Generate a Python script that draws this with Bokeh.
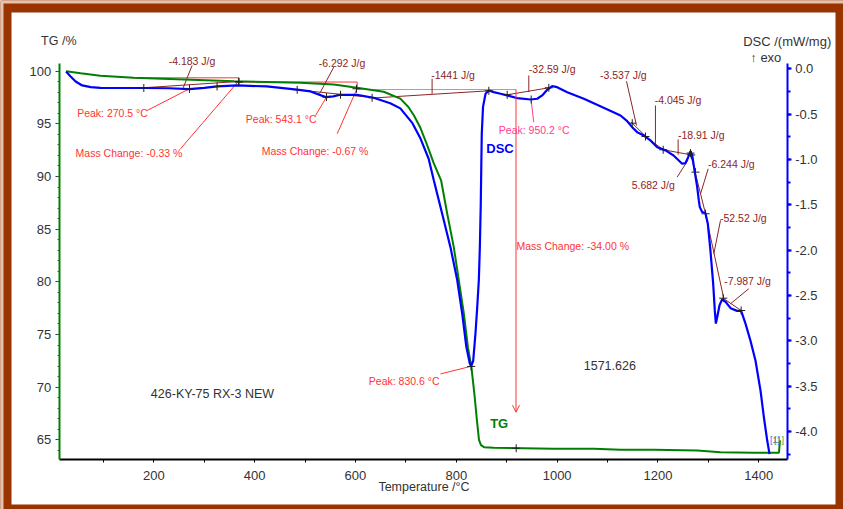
from bokeh.plotting import figure
from bokeh.models import (Range1d, LinearAxis, SingleIntervalTicker, PrintfTickFormatter,
                          Label, Arrow, OpenHead, BoxAnnotation)
from bokeh.embed import file_html
from bokeh.resources import INLINE

# ---------------- data ----------------
tg_temp = [26, 55, 94, 160, 260, 359, 491, 557, 603, 656, 689, 705, 716, 729, 742, 755, 770,
           782, 795, 805, 815, 823, 830, 836, 841, 845, 849, 855, 874, 993, 1073, 1126, 1192,
           1278, 1324, 1390, 1440, 1442]
tg_mass = [100.0, 99.81, 99.56, 99.37, 99.21, 99.05, 98.9, 98.74, 98.42, 98.05, 97.4, 96.6,
           95.8, 94.6, 93.0, 91.3, 89.6, 86.46, 83.3, 80.13, 76.97, 73.8, 71.9, 69.3, 66.8,
           65.0, 64.5, 64.3, 64.24, 64.15, 64.15, 64.05, 64.05, 63.99, 63.83, 63.77, 63.77, 64.94]

dsc_temp = [26, 35, 45, 58, 75, 94, 180, 230, 270, 300, 326, 365, 424, 484, 511, 541, 556, 570,
            603, 636, 669, 689, 713, 729, 745, 755.5, 772, 788.5, 801.8, 811.7, 820, 826.8,
            829.5, 833.5, 838, 841.5, 844.7, 846.7, 848.5, 849.5, 850.5, 853, 858, 864.5, 874.4,
            887.7, 900.9, 920.8, 947.3, 960.5, 970.4, 980.3, 990.2, 1000, 1020, 1053, 1089,
            1125.7, 1139, 1148.9, 1158.8, 1172, 1185, 1198.5, 1215, 1231, 1248, 1254.6, 1260,
            1264.5, 1268, 1272.5, 1277.8, 1281, 1283, 1287.6, 1294, 1298.9, 1304, 1309.5,
            1312.8, 1314.8, 1317.5, 1322, 1327.4, 1334, 1344, 1357, 1365, 1373.6, 1383.5,
            1393.5, 1403.4, 1410, 1416.7, 1421.3]
dsc_val = [-0.03, -0.085, -0.14, -0.184, -0.203, -0.21, -0.212, -0.215, -0.224, -0.21, -0.195,
           -0.184, -0.195, -0.23, -0.25, -0.313, -0.305, -0.287, -0.287, -0.32, -0.38, -0.437,
           -0.60, -0.77, -0.99, -1.232, -1.60, -1.97, -2.33, -2.70, -3.07, -3.25, -3.28, -3.22,
           -2.92, -2.63, -2.33, -1.97, -1.5, -1.1, -0.72, -0.42, -0.276, -0.239, -0.258, -0.276,
           -0.294, -0.324, -0.339, -0.331, -0.294, -0.232, -0.192, -0.203, -0.258, -0.331,
           -0.423, -0.515, -0.578, -0.644, -0.699, -0.736, -0.79, -0.865, -0.90, -0.956,
           -1.048, -1.04, -0.975, -0.909, -0.956, -1.12, -1.306, -1.452, -1.526, -1.58, -1.59,
           -1.71, -2.00, -2.37, -2.67, -2.81, -2.74, -2.61, -2.54, -2.57, -2.64, -2.67, -2.67,
           -2.81, -3.00, -3.22, -3.55, -3.84, -4.10, -4.25]

# axis extents
temp_lo, temp_hi = 12.4, 1456.3
tg_lo, tg_hi = 63.13, 100.73
dsc_lo, dsc_hi = -4.309, 0.058

# DSC integration baselines (maroon), in DSC units
base_x0 = [180.2, 484.4, 636.3, 900.9, 1147, 1175.3, 1210.4, 1264.5, 1294.3, 1330.6]
base_y0 = [-0.2095, -0.232, -0.322, -0.287, -0.589, -0.747, -0.893, -0.935, -1.599, -2.536]
base_x1 = [368.6, 636.3, 864.5, 983.5, 1178.6, 1210.4, 1261.3, 1294.3, 1330.6, 1365]
base_y1 = [-0.140, -0.32, -0.243, -0.21, -0.761, -0.893, -0.945, -1.599, -2.536, -2.666]

# leader lines for the J/g labels (maroon)
lead_x0 = [276, 557, 752, 943.8, 1137.6, 1195, 1240, 1238, 1299.6, 1324, 1380]
lead_y0 = [0.036, 0.018, -0.110, -0.074, -0.137, -0.405, -0.78, -1.195, -1.103, -1.673, -2.426]
lead_x1 = [258.3, 528.7, 752, 943.8, 1157.4, 1195, 1240, 1259.2, 1284.4, 1310.8, 1343.8]
lead_y1 = [-0.21, -0.276, -0.276, -0.258, -0.625, -0.857, -0.948, -1.011, -1.379, -2.04, -2.592]

energy_text = ["-4.183 J/g", "-6.292 J/g", "-1441 J/g", "-32.59 J/g", "-3.537 J/g",
               "-4.045 J/g", "-18.91 J/g", "5.682 J/g", "-6.244 J/g", "-52.52 J/g", "-7.987 J/g"]
energy_x = [275.8, 573.3, 793.5, 990.2, 1131.3, 1239.7, 1285.9, 1190.7, 1345.5, 1369.3, 1377.6]
energy_y = [0.084, 0.066, -0.074, -0.008, -0.074, -0.342, -0.725, -1.287, -1.048, -1.648, -2.346]

# peak labels (DSC units)
peak_text = ["Peak: 270.5 °C", "Peak: 543.1 °C", "Peak: 830.6 °C", "Peak: 950.2 °C"]
peak_x = [118.1, 452.7, 696.6, 954.5]
peak_y = [-0.493, -0.551, -3.438, -0.680]
peak_lx0 = [186.9, 520.8, 768.6, 953.6]
peak_ly0 = [-0.46, -0.515, -3.365, -0.589]
peak_lx1 = [270.8, 542.5, 828.2, 948.5]
peak_ly1 = [-0.22, -0.313, -3.283, -0.349]

# cross markers on DSC
mark_x = [180.2, 270.8, 325.5, 368.6, 484.4, 542.5, 570.4, 633, 864.5, 900.9, 948.5, 983.5,
          1149, 1175.3, 1210.4, 1264.5, 1266, 1274.4, 1294.3, 1329.5, 1365, 829.5]
mark_y = [-0.212, -0.222, -0.195, -0.143, -0.232, -0.313, -0.287, -0.32, -0.243, -0.287,
          -0.339, -0.21, -0.6, -0.747, -0.893, -0.93, -0.95, -1.14, -1.599, -2.53, -2.666, -3.283]

# mass change steps (TG units)
step_x = [157.2, 368.6, 368.6, 603.4, 603.4]
step_y = [99.37, 99.37, 98.97, 98.97, 98.26]
mc_text = ["Mass Change: -0.33 %", "Mass Change: -0.67 %", "Mass Change: -34.00 %"]
mc_x = [150.8, 519.8, 1030.9]
mc_y = [92.19, 92.40, 83.38]
mc_lx0 = [252.9, 563.8]
mc_ly0 = [92.63, 94.06]
mc_lx1 = [366.6, 602]
mc_ly1 = [98.97, 98.23]
mc_level_x = [603.4, 918.4]
mc_level_y = [98.26, 98.26]
mc_arrow_end = 67.62
tg_mark_x = [368.6, 602, 918.8]
tg_mark_y = [98.97, 98.33, 64.2]

# ---------------- figure ----------------
BROWN = "#993300"
LIGHT = "#e6c2ae"
MAROON = "#8b2525"
RED = "#ff3333"
PINK = "#ff3c96"
FONT = "Liberation Sans"

# the frame fills the whole canvas; the ranges map the page edges
p = figure(width=843, height=509, x_range=Range1d(-104.07, 1568.0),
           y_range=Range1d(58.383, 106.712),
           output_backend="svg", toolbar_location=None,
           min_border_left=0, min_border_right=0, min_border_top=0, min_border_bottom=0)
p.extra_y_ranges = {"dsc": Range1d(-4.8604, 0.7528)}
p.border_fill_color = BROWN
p.background_fill_color = BROWN
p.outline_line_color = None
p.grid.visible = False
p.xaxis.visible = False
p.yaxis.visible = False

# page decoration: white sheet inside a brown frame, pale top/left edge
p.add_layout(BoxAnnotation(left=-82.25, right=1552.1, bottom=58.857, top=105.572,
                           fill_color="white", fill_alpha=1, line_color=None, level="underlay"))
p.add_layout(BoxAnnotation(left=-104.07, right=1568.0, bottom=106.427, top=106.712,
                           fill_color=LIGHT, fill_alpha=1, line_color=None, level="underlay"))
p.add_layout(BoxAnnotation(left=-104.07, right=-98.12, bottom=58.383, top=106.712,
                           fill_color=LIGHT, fill_alpha=1, line_color=None, level="underlay"))

# bottom axis
xa = LinearAxis(fixed_location=tg_lo, bounds=(temp_lo, temp_hi))
xa.ticker = SingleIntervalTicker(interval=200, num_minor_ticks=2)
xa.axis_line_color = "black"
xa.axis_line_width = 2
xa.major_tick_out = 0
xa.major_tick_in = 0
xa.minor_tick_out = 3
xa.minor_tick_in = 0
xa.minor_tick_line_color = "black"
xa.major_label_text_font = FONT
xa.major_label_text_font_size = "13px"
xa.major_label_text_color = "#333333"
xa.major_label_standoff = 8
p.add_layout(xa, "below")

# left TG axis
ya = LinearAxis(fixed_location=temp_lo, bounds=(tg_lo, tg_hi))
ya.ticker = SingleIntervalTicker(interval=5, num_minor_ticks=5)
ya.axis_line_color = "#008000"
ya.axis_line_width = 2
ya.major_tick_out = 4
ya.major_tick_in = 0
ya.minor_tick_out = 2
ya.minor_tick_in = 0
ya.major_tick_line_color = "#333333"
ya.minor_tick_line_color = "#555555"
ya.major_label_text_font = FONT
ya.major_label_text_font_size = "13px"
ya.major_label_text_color = "#333333"
ya.major_label_standoff = 4
p.add_layout(ya, "left")

# right DSC axis
ra = LinearAxis(y_range_name="dsc", fixed_location=temp_hi, bounds=(dsc_lo, dsc_hi))
ra.ticker = SingleIntervalTicker(interval=0.5, num_minor_ticks=2)
ra.formatter = PrintfTickFormatter(format="%.1f")
ra.axis_line_color = "#0000ff"
ra.axis_line_width = 2
ra.major_tick_out = 4
ra.major_tick_in = 0
ra.minor_tick_out = 3
ra.minor_tick_in = 0
ra.major_tick_line_color = "#0000ff"
ra.minor_tick_line_color = "#0000ff"
ra.major_tick_line_width = 2
ra.minor_tick_line_width = 2
ra.major_label_text_font = FONT
ra.major_label_text_font_size = "13px"
ra.major_label_text_color = "#333333"
ra.major_label_standoff = 4
p.add_layout(ra, "right")

# mass-change step lines (TG units)
p.line(step_x, step_y, line_color=RED, line_width=1)
p.line(mc_level_x, mc_level_y, line_color="#f08080", line_width=1)
p.segment(mc_lx0, mc_ly0, mc_lx1, mc_ly1, line_color=RED, line_width=1)
p.add_layout(Arrow(x_start=mc_level_x[1], y_start=mc_level_y[1], x_end=mc_level_x[1],
                   y_end=mc_arrow_end, line_color=RED, line_width=1,
                   end=OpenHead(size=7, line_color=RED, line_width=1)))

# DSC baselines and leaders
p.segment(base_x0, base_y0, base_x1, base_y1, line_color=MAROON, line_width=1, y_range_name="dsc")
p.segment(lead_x0, lead_y0, lead_x1, lead_y1, line_color=MAROON, line_width=1, y_range_name="dsc")
p.segment(peak_lx0[:3], peak_ly0[:3], peak_lx1[:3], peak_ly1[:3], line_color=RED, line_width=1,
          y_range_name="dsc")
p.segment(peak_lx0[3:], peak_ly0[3:], peak_lx1[3:], peak_ly1[3:], line_color=PINK, line_width=1,
          y_range_name="dsc")

# curves
p.line(tg_temp, tg_mass, line_color="#008000", line_width=2)
p.line(dsc_temp, dsc_val, line_color="#0000ff", line_width=2.2, y_range_name="dsc")

p.scatter(mark_x, mark_y, marker="cross", size=8, line_color="#202020", line_width=1,
          y_range_name="dsc")
p.scatter(tg_mark_x, tg_mark_y, marker="cross", size=8, line_color="#202020", line_width=1)


def add_label(text, x, y, color, size, rng="default", style="normal", align="center"):
    p.add_layout(Label(x=x, y=y, text=text, text_color=color, text_font=FONT,
                       text_font_size=size, text_font_style=style, text_align=align,
                       text_baseline="middle", y_range_name=rng))


for t, x, y in zip(energy_text, energy_x, energy_y):
    add_label(t, x, y, MAROON, "10.5px", "dsc")
for i, (t, x, y) in enumerate(zip(peak_text, peak_x, peak_y)):
    add_label(t, x, y, PINK if i == 3 else RED, "10.5px", "dsc")
for t, x, y in zip(mc_text, mc_x, mc_y):
    add_label(t, x, y, RED, "10.5px")

add_label("426-KY-75  RX-3 NEW", 319.8, 69.37, "#333333", "12.5px")
add_label("1571.626", 1104.5, 72.06, "#333333", "12.5px")
add_label("DSC", 886.7, 92.69, "#0000ff", "13px", style="bold")
add_label("TG", 885.1, 66.52, "#008000", "13px", style="bold")
add_label("[1]", 1432.1, 65.0, "#4060ff", "9px")
add_label("[1]", 1440.1, 65.0, "#40a040", "9px")

# axis titles
add_label("TG /%", 11.6, 102.82, "#333333", "12.5px")
add_label("DSC /(mW/mg)", 1456.3, 0.301, "#333333", "13px", "dsc")
add_label("↑ exo", 1413.9, 0.121, "#333333", "13px", "dsc")
add_label("Temperature /°C", 735.9, 60.50, "#333333", "12.5px")

open("out.html", "w").write(file_html(p, INLINE))
